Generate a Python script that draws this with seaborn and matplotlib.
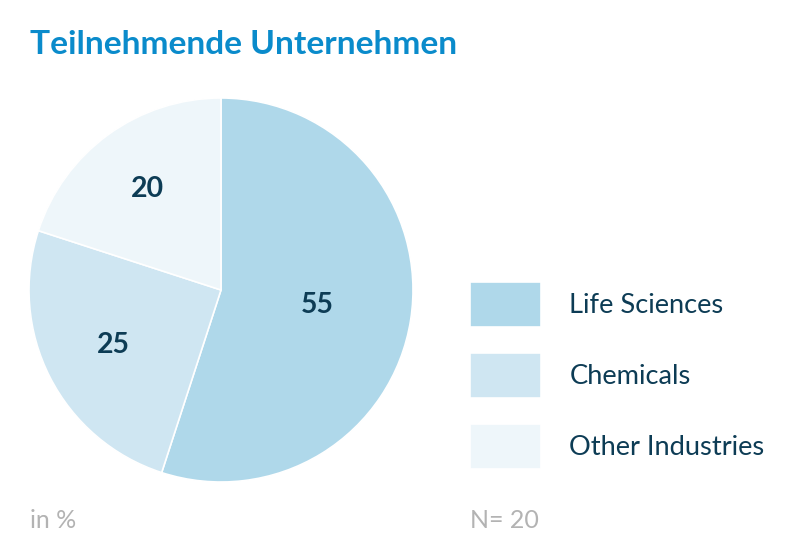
import numpy as np
import matplotlib.pyplot as plt
import seaborn as sns

sns.set_theme(style="white")
plt.rcParams['font.family'] = ['Lato', 'DejaVu Sans']

# data
categories = ["Life Sciences", "Chemicals", "Other Industries"]
shares = [55, 25, 20]
colors = ["#afd8ea", "#cfe6f2", "#eef6fa"]
title = "Teilnehmende Unternehmen"
unit_note = "in %"
n_note = "N= 20"

dark = "#0d3c55"
grey = "#b3b3b3"

fig = plt.figure(figsize=(7.94, 5.59), dpi=100)
ax = fig.add_axes([29 / 794, 77 / 559, 384 / 794, 384 / 559])

wedges, _ = ax.pie(shares, colors=colors, startangle=90, counterclock=False,
                   wedgeprops=dict(edgecolor="white", linewidth=1.2))
ax.set_xlim(-1, 1)
ax.set_ylim(-1, 1)
ax.set_aspect("equal")

# value labels at the middle angle of each wedge
label_dist = [0.51, 0.63, 0.65]
for w, v, d in zip(wedges, shares, label_dist):
    ang = np.deg2rad((w.theta1 + w.theta2) / 2)
    ax.text(d * np.cos(ang), d * np.sin(ang), str(v), ha="center", va="center",
            fontsize=20.5, fontweight="bold", color=dark)

fig.text(30 / 794, 1 - 44 / 559, title, fontsize=24.1, fontweight="bold",
         color="#0a8bcb", va="center", ha="left")

fig.legend(wedges, categories, loc="upper left",
           bbox_to_anchor=(470 / 794, 1 - 282 / 559), frameon=False,
           fontsize=19.6, handlelength=2.6, handleheight=2.15,
           labelspacing=0.97, handletextpad=1.05, borderpad=0,
           borderaxespad=0, labelcolor=dark)

fig.text(30 / 794, 1 - 521 / 559, unit_note, fontsize=18, color=grey,
         va="center", ha="left")
fig.text(470 / 794, 1 - 521 / 559, n_note, fontsize=18, color=grey,
         va="center", ha="left")

fig.savefig("out.png", dpi=100)
